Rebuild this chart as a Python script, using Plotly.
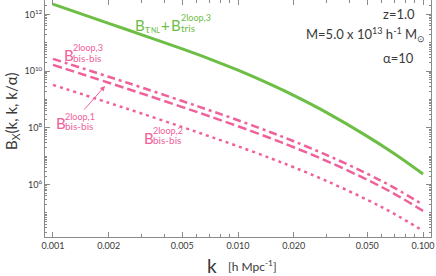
import plotly.graph_objects as go

# ---- data ----
k = [0.001, 0.002, 0.003, 0.005, 0.007, 0.01, 0.015, 0.02, 0.03, 0.05, 0.07, 0.1]
log_B_tau_tris = [12.364, 11.687, 11.291, 10.787, 10.437, 10.034, 9.532, 9.144, 8.546, 7.702, 7.089, 6.376]
log_B_bisbis_3 = [10.436, 9.804, 9.431, 8.947, 8.623, 8.270, 7.848, 7.530, 7.051, 6.381, 5.885, 5.288]
log_B_bisbis_1 = [10.224, 9.592, 9.219, 8.735, 8.411, 8.058, 7.636, 7.318, 6.839, 6.169, 5.673, 5.076]
log_B_bisbis_2 = [9.518, 8.886, 8.513, 8.029, 7.705, 7.352, 6.930, 6.612, 6.133, 5.463, 4.967, 4.370]

x_tickvals = [0.001, 0.002, 0.005, 0.01, 0.02, 0.05, 0.1]
x_ticktext = ["0.001", "0.002", "0.005", "0.010", "0.020", "0.050", "0.100"]
y_tickvals = [1e6, 1e8, 1e10, 1e12]
y_ticktext = ["10<sup>6</sup>", "10<sup>8</sup>", "10<sup>10</sup>", "10<sup>12</sup>"]

GREEN = "#6dbe45"
PINK = "#f0609b"
TXT = "#3a3a3a"
AX = "#8a8a8a"
FONT = "Lato"

def tenpow(vals):
    return [10 ** v for v in vals]

fig = go.Figure()
fig.add_trace(go.Scatter(x=k, y=tenpow(log_B_tau_tris), mode="lines",
                         line=dict(color=GREEN, width=3), line_shape="spline"))
fig.add_trace(go.Scatter(x=k, y=tenpow(log_B_bisbis_3), mode="lines",
                         line=dict(color=PINK, width=2.5, dash="8px,4px,3px,4px"), line_shape="spline"))
fig.add_trace(go.Scatter(x=k, y=tenpow(log_B_bisbis_1), mode="lines",
                         line=dict(color=PINK, width=2.5, dash="9px,4px"), line_shape="spline"))
fig.add_trace(go.Scatter(x=k, y=tenpow(log_B_bisbis_2), mode="lines",
                         line=dict(color=PINK, width=2.5, dash="3px,4px"), line_shape="spline"))

# minor tick positions
x_minor = [m * 10 ** e for e in (-3, -2) for m in range(2, 10)]
y_minor = [m * 10 ** e for e in range(4, 13) for m in range(1, 10) if not (m == 1 and e % 2 == 0)]

W, H = 436, 276
L, R, T, B = 45, 5, 0, 39
pw, ph = W - L - R, H - T - B

def px(x, y):
    return (x - L) / pw, (H - B - y) / ph

annots = []

def txt(x, y, text, size, color, xanchor="left", yanchor="middle", **kw):
    xp, yp = px(x, y)
    annots.append(dict(x=xp, y=yp, xref="paper", yref="paper", text=text,
                       showarrow=False, xanchor=xanchor, yanchor=yanchor,
                       font=dict(family=FONT, size=size, color=color), **kw))

# green label
txt(133, 25, "B", 15, GREEN)
txt(143, 28, "τ", 11, GREEN)
txt(149, 30, "NL", 7, GREEN)
txt(159, 25, "+", 15, GREEN)
txt(169, 25, "B", 15, GREEN)
txt(179, 17, "2loop,3", 9, GREEN)
txt(179, 28, "tris", 10, GREEN)
# pink labels
txt(62, 55, "B", 15, PINK)
txt(71, 48, "2loop,3", 9, PINK)
txt(71, 58, "bis-bis", 10, PINK)
txt(54, 123, "B", 15, PINK)
txt(63, 116, "2loop,1", 9, PINK)
txt(63, 126, "bis-bis", 10, PINK)
txt(142, 138, "B", 15, PINK)
txt(151, 130, "2loop,2", 9, PINK)
txt(151, 140, "bis-bis", 10, PINK)
# arrow
hx, hy = px(105, 86)
annots.append(dict(x=hx, y=hy, xref="paper", yref="paper", text="", showarrow=True,
                   ax=-22, ay=25, arrowhead=2, arrowsize=1, arrowwidth=1, arrowcolor=PINK))
# parameters
txt(417, 14, "z=1.0", 13, TXT, xanchor="right")
txt(427, 35, "M=5.0 x 10<sup>13</sup> h<sup>-1</sup> M<sub>⊙</sub>", 13, TXT, xanchor="right")
txt(416, 58, "α=10", 13, TXT, xanchor="right")
# axis titles
txt(212, 265, "k", 19, TXT, xanchor="center")
txt(226, 266, "[h Mpc<sup>-1</sup>]", 12, TXT)
xp, yp = px(12, 111)
annots.append(dict(x=xp, y=yp, xref="paper", yref="paper", text="B<sub>X</sub>(k, k, k/α)",
                   showarrow=False, textangle=-90, xanchor="center", yanchor="middle",
                   font=dict(family=FONT, size=15, color=TXT)))

fig.update_layout(
    width=W, height=H,
    margin=dict(l=L, r=R, t=T, b=B),
    paper_bgcolor="white", plot_bgcolor="white",
    showlegend=False,
    annotations=annots,
    font=dict(family=FONT, color=TXT),
)
fig.update_xaxes(type="log", range=[-3.043, -0.957],
                 tickvals=x_tickvals, ticktext=x_ticktext,
                 tickfont=dict(size=9, color=TXT, family=FONT),
                 ticks="inside", ticklen=5, tickcolor=AX,
                 showline=True, linecolor=AX, linewidth=1, mirror="ticks",
                 showgrid=False, zeroline=False,
                 minor=dict(tickvals=x_minor, ticks="inside", ticklen=3, tickcolor=AX, showgrid=False))
fig.update_yaxes(type="log", range=[4.153, 12.51],
                 tickvals=y_tickvals, ticktext=y_ticktext,
                 tickfont=dict(size=9, color=TXT, family=FONT),
                 ticks="inside", ticklen=5, tickcolor=AX,
                 showline=True, linecolor=AX, linewidth=1, mirror="ticks",
                 showgrid=False, zeroline=False,
                 minor=dict(tickvals=y_minor, ticks="inside", ticklen=2, tickcolor=AX, showgrid=False))

fig.write_html("out.html", config={"displayModeBar": False},
               post_script="document.body.style.margin='0';")
